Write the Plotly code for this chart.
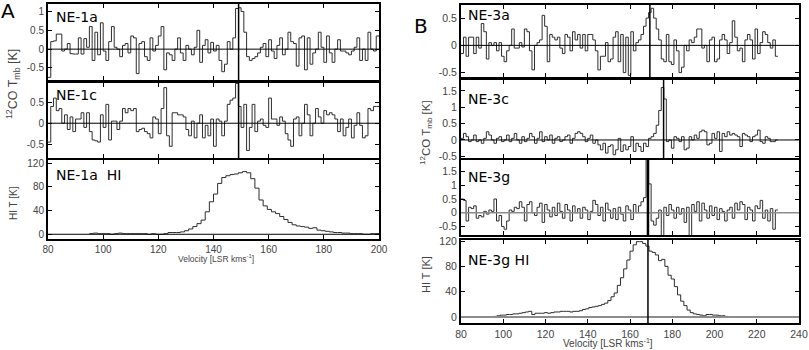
import numpy as np
import plotly.graph_objects as go

W, H = 809, 350

# ---------------- data ----------------
A_CO_START, A_CO_STEP = 80.0, 1.0
ne1a_co = [
    -0.75, 0.2, 0.22, 0.4, 0.4, -0.05, 0.0, 0.15, -0.12, -0.13,
    -0.13, 0.3, -0.13, 0.28, 0.05, 0.6, -0.3, 0.45, -0.15, 0.7,
    -0.05, -0.3, 0.2, 0.6, 0.05, 0.0, -0.2, 0.1, 0.15, -0.1,
    0.35, 0.3, -0.65, 0.15, 0.2, -0.2, -0.3, 0.3, -0.05, 0.1,
    0.35, 0.6, -0.55, -0.1, -0.15, -0.3, 0.0, 0.3, -0.1, -0.3,
    0.1, 0.0, -0.15, 0.05, 0.5, -0.35, 0.1, 0.25, -0.1, 0.18,
    -0.05, 0.1, -0.3, -0.6, -0.4, 0.2, 0.0, 0.3, 1.08, 1.1,
    1.0, 0.45, -0.2, -0.3, -0.25, -0.2, -0.1, 0.05, 0.15, -0.2,
    0.25, -0.05, -0.25, 0.1, 0.3, -0.15, 0.0, 0.45, 0.2, 0.15,
    -0.45, 0.3, 0.35, -0.55, 0.3, -0.4, -0.1, 0.0, 0.45, 0.05,
    -0.35, 0.35, -0.1, -0.35, 0.0, 0.25, -0.05, -0.05, -0.1, -0.15,
    -0.05, 0.05, 0.3, -0.3, 0.0, -0.3, 0.45, 0.0, -0.05, 0.35,
]
ne1c_co = [
    -0.45, 0.4, 0.6, 0.3, 0.35, 0.0, 0.2, -0.15, 0.15, -0.2,
    0.1, 0.1, 0.25, -0.1, 0.25, -0.2, -0.4, -0.42, -0.45, 0.2,
    -0.1, 0.45, -0.4, 0.05, 0.05, -0.15, 0.05, 0.35, 0.25, 0.35,
    0.3, 0.35, -0.2, -0.15, -0.12, -0.2, -0.25, -0.35, 0.15, 0.1,
    -0.25, 0.35, 0.85, -0.3, -0.55, 0.25, 0.25, 0.2, 0.2, 0.15,
    -0.15, -0.3, 0.05, -0.35, 0.0, 0.2, -0.35, -0.05, -0.3, 0.1,
    -0.55, 0.1, 0.05, -0.3, 0.05, 0.45, 0.55, 0.6, 0.95, 0.4,
    -0.1, 0.45, -0.65, -0.1, 0.45, -0.2, 0.05, 0.1, -0.05, -0.1,
    0.6, 0.1, 0.1, -0.05, 0.15, 0.05, -0.25, -0.4, -0.55, 0.1,
    0.15, -0.3, 0.0, 0.45, 0.2, -0.3, 0.0, 0.35, 0.15, 0.0,
    0.3, 0.2, 0.25, 0.2, 0.1, -0.2, 0.1, -0.3, -0.1, 0.1,
    -0.35, -0.05, 0.25, -0.05, -0.35, -0.3, 0.35, 0.3, 0.4, 0.4,
]
HI_A_START, HI_A_STEP = 95.0, 1.5
ne1a_hi = [
    1, 2, 1, 1, 1, 0, 1, 2, 1, 1,
    1, 1, 1, 1, 0, 1, 0, 0, 1, 3,
    3, 3, 4, 6, 9, 13, 18, 24, 38, 55,
    68, 86, 96, 99, 101, 102, 104, 106, 104, 94,
    78, 58, 48, 42, 38, 35, 30, 25, 20, 16,
    14, 13, 12, 10, 11, 7, 6, 5, 4, 3,
    3, 2, 2, 1, 1, 1, 0, 0, 1, 1, 1,
]

B_CO_START, B_CO_STEP = 80.0, 1.2
ne3a_co = [
    -0.15, 0.15, -0.2, 0.15, 0.15, -0.15, 0.15, -0.05, 0.4, 0.25,
    -0.25, 0.05, 0.0, 0.05, -0.1, 0.05, -0.2, -0.3, -0.1, 0.0,
    0.3, -0.05, -0.05, 0.05, -0.03, 0.3, 0.25, -0.1, -0.45, 0.0,
    0.05, 0.1, 0.55, 0.35, -0.3, 0.2, 0.15, 0.1, 0.15, -0.05,
    -0.15, 0.2, 0.15, -0.1, 0.25, 0.1, 0.2, -0.05, 0.2, -0.1,
    0.2, 0.2, 0.1, -0.1, -0.45, -0.2, -0.2, 0.05, -0.3, -0.25,
    0.15, 0.25, -0.3, 0.2, -0.5, 0.15, -0.55, 0.25, -0.1, 0.05,
    0.1, 0.2, 0.35, 0.5, 0.6, 0.68, 0.5, 0.3, 0.1, -0.25,
    -0.3, 0.2, -0.3, -0.35, 0.1, -0.1, -0.5, -0.4, 0.0, -0.1,
    0.1, 0.05, 0.15, 0.3, 0.3, -0.05, 0.0, -0.3, 0.1, 0.15,
    -0.3, -0.25, 0.1, 0.2, 0.1, -0.15, 0.05, 0.45, 0.15, -0.1,
    -0.05, -0.3, 0.1, 0.2, 0.1, -0.25, 0.3, -0.15, 0.05, 0.25,
    0.2, 0.05, -0.05, 0.1, -0.2,
]
ne3c_co = [
    0.05, 0.2, 0.1, -0.05, 0.0, 0.15, -0.05, 0.0, -0.1, 0.05,
    0.25, 0.15, 0.0, -0.1, 0.05, 0.1, -0.05, 0.0, 0.15, -0.05,
    0.05, 0.2, 0.0, -0.1, 0.1, -0.05, 0.05, 0.2, 0.1, -0.1,
    0.05, 0.25, -0.05, 0.1, 0.0, 0.15, -0.1, 0.05, 0.1, -0.05,
    0.0, 0.1, 0.15, -0.1, 0.05, 0.2, 0.25, 0.2, 0.1, -0.05,
    0.05, 0.15, -0.1, 0.0, -0.15, -0.3, -0.1, -0.4, -0.2, -0.15,
    -0.45, -0.3, 0.05, -0.35, -0.15, -0.3, -0.2, 0.1, -0.35, -0.1,
    -0.2, -0.35, -0.1, -0.2, 0.05, 0.1, 0.2, 0.45, 0.9, 1.6,
    1.25, -0.05, 0.0, -0.25, 0.1, 0.05, -0.05, 0.1, -0.3, -0.25,
    0.1, 0.0, 0.15, 0.05, 0.25, 0.3, 0.25, -0.15, -0.1, 0.2,
    0.05, 0.25, -0.35, 0.2, 0.1, 0.25, 0.15, 0.2, 0.15, 0.1,
    -0.2, 0.2, 0.15, 0.1, -0.05, 0.1, 0.15, 0.3, -0.05, -0.1,
    0.1, 0.05, -0.05, -0.05, 0.0,
]
ne3g_co = [
    0.5, 0.45, -0.3, 0.2, 0.15, 0.25, -0.2, -0.1, -0.15, 0.05,
    -0.05, 0.1, 0.05, 0.5, -0.3, -0.1, -0.5, -0.6, -0.3, 0.1,
    0.05, 0.2, 0.15, 0.4, 0.2, -0.3, 0.3, 0.4, 0.0, -0.1,
    0.2, 0.35, -0.35, 0.3, 0.1, -0.15, 0.2, -0.1, 0.35, 0.05,
    -0.2, 0.3, 0.1, -0.3, 0.25, 0.0, 0.15, -0.2, 0.2, 0.1,
    -0.25, 0.05, 0.45, 0.3, -0.1, 0.2, -0.3, 0.35, 0.1, -0.2,
    0.15, -0.25, 0.2, -0.05, -0.3, 0.25, 0.1, -0.25, 0.3, 0.0,
    0.25, 0.4, 0.55, 1.95, 1.05, -0.3, -0.45, -0.2, 0.1, -1.2,
    0.2, -0.1, 0.3, 0.1, -0.2, 0.2, -0.05, 0.15, -0.35, 0.2,
    -1.2, 0.3, 0.05, 0.4, -0.3, 0.35, 0.1, -0.2, 0.25, -0.1,
    0.2, -0.25, 0.15, 0.05, -0.3, 0.1, 0.2, -0.2, 0.35, 0.1,
    0.4, 0.3, -0.25, 0.2, 0.1, -0.3, 0.25, 0.15, 0.45, -0.2,
    0.1, -0.3, 0.15, -0.6, 0.1,
]
HI_B_START, HI_B_STEP = 94.0, 1.5
ne3g_hi = [
    0, 1, 2, 3, 3, 4, 4, 5, 5, 6,
    7, 8, 9, 4, 6, 6, 6, 7, 6, 7,
    8, 8, 9, 9, 9, 8, 9, 9, 10, 12,
    13, 15, 16, 17, 18, 20, 22, 26, 32, 38,
    50, 62, 76, 90, 104, 114, 119, 119, 116, 112,
    104, 102, 98, 89, 91, 80, 66, 60, 48, 35,
    25, 18, 11, 7, 5, 4, 3, 2, 4, 4,
    3, 3, 2, 2, 1,
]

# marked velocities (vertical lines)
v_ne1 = 149.1
v_ne3a = 169.4
v_ne3c = 175.9
v_ne3g = 168.5

A_XTICKS = [80, 100, 120, 140, 160, 180, 200]
B_XTICKS = [80, 100, 120, 140, 160, 180, 200, 220, 240]

# ---------------- layout helpers ----------------
def xd(l, r):
    return [l / W, r / W]

def yd(top, bottom):
    return [1 - bottom / H, 1 - top / H]

A_XD = xd(48, 379)
B_XD = xd(461, 799)

panels = [
    dict(lab="NE-1a", vals=ne1a_co, st=A_CO_START, dv=A_CO_STEP, xdom=A_XD, ydom=yd(4, 80),
         xr=[80, 200], yr=[-0.82, 1.2], yt=[-0.5, 0, 0.5, 1], xt=A_XTICKS, bottom=False,
         zc="black", zw=1, vl=v_ne1, vw=1.5, fs=10, labpos=(55, 17)),
    dict(lab="NE-1c", vals=ne1c_co, st=A_CO_START, dv=A_CO_STEP, xdom=A_XD, ydom=yd(83, 158),
         xr=[80, 200], yr=[-0.83, 0.96], yt=[-0.5, 0, 0.5], xt=A_XTICKS, bottom=False,
         zc="black", zw=1, vl=v_ne1, vw=1.5, fs=10, labpos=(55, 95)),
    dict(lab="NE-1a  HI", vals=ne1a_hi, st=HI_A_START, dv=HI_A_STEP, xdom=A_XD, ydom=yd(160, 239),
         xr=[80, 200], yr=[-8, 125.6], yt=[0, 40, 80, 120], xt=A_XTICKS, bottom=True,
         zc="black", zw=1, vl=None, vw=0, fs=10, labpos=(55, 175)),
    dict(lab="NE-3a", vals=ne3a_co, st=B_CO_START, dv=B_CO_STEP, xdom=B_XD, ydom=yd(5, 77),
         xr=[80, 240], yr=[-0.58, 0.74], yt=[-0.5, 0, 0.5], xt=B_XTICKS, bottom=False,
         zc="black", zw=1, vl=v_ne3a, vw=1.5, fs=10.5, labpos=(467, 15)),
    dict(lab="NE-3c", vals=ne3c_co, st=B_CO_START, dv=B_CO_STEP, xdom=B_XD, ydom=yd(80, 158),
         xr=[80, 240], yr=[-0.55, 1.83], yt=[-0.5, 0, 0.5, 1, 1.5], xt=B_XTICKS, bottom=False,
         zc="black", zw=1, vl=v_ne3c, vw=1.5, fs=10.5, labpos=(467, 99)),
    dict(lab="NE-3g", vals=ne3g_co, st=B_CO_START, dv=B_CO_STEP, xdom=B_XD, ydom=yd(160, 235),
         xr=[80, 240], yr=[-0.81, 1.92], yt=[-0.5, 0, 0.5, 1, 1.5], xt=B_XTICKS, bottom=False,
         zc="#8c8c8c", zw=1.5, vl=v_ne3g, vw=2.5, fs=10.5, labpos=(467, 177)),
    dict(lab="NE-3g HI", vals=ne3g_hi, st=HI_B_START, dv=HI_B_STEP, xdom=B_XD, ydom=yd(240, 323),
         xr=[80, 240], yr=[-9.4, 121.6], yt=[0, 40, 80, 120], xt=B_XTICKS, bottom=True,
         zc="#8c8c8c", zw=2, vl=v_ne3g, vw=1.5, fs=10.5, labpos=(467, 260)),
]

def fmt(v):
    return "%g" % v

fig = go.Figure()
layout = dict(width=W, height=H, margin=dict(l=0, r=0, t=0, b=0, autoexpand=False),
              paper_bgcolor="white", plot_bgcolor="white", showlegend=False,
              font=dict(family="Liberation Sans, Arial, sans-serif", color="#444"))
shapes = []
annotations = []

for i, p in enumerate(panels):
    n = "" if i == 0 else str(i + 1)
    vals = list(p["vals"])
    xs = p["st"] + p["dv"] * np.arange(len(vals) + 1)
    ys = vals + [vals[-1]]
    fig.add_trace(go.Scatter(x=xs, y=ys, mode="lines", line=dict(color="#2e2e2e", width=1, shape="hv"),
                             xaxis="x" + n, yaxis="y" + n, hoverinfo="skip"))
    common = dict(showline=True, linewidth=2, linecolor="black", mirror="ticks", ticks="inside",
                  ticklen=4, tickwidth=1, tickcolor="black", showgrid=False, zeroline=False,
                  automargin=False, fixedrange=True,
                  tickfont=dict(size=p["fs"], color="#444", family="Liberation Sans, Arial, sans-serif"))
    layout["xaxis" + n] = dict(domain=p["xdom"], range=p["xr"], anchor="y" + n,
                               tickvals=p["xt"], ticktext=[str(t) for t in p["xt"]],
                               showticklabels=p["bottom"], **common)
    layout["yaxis" + n] = dict(domain=p["ydom"], range=p["yr"], anchor="x" + n,
                               tickvals=p["yt"], ticktext=[fmt(t) for t in p["yt"]], **common)
    shapes.append(dict(type="line", xref="x" + n + " domain", yref="y" + n, x0=0, x1=1, y0=0, y1=0,
                       line=dict(color=p["zc"], width=p["zw"]), layer="above"))
    if p["vl"] is not None:
        shapes.append(dict(type="line", xref="x" + n, yref="y" + n + " domain", x0=p["vl"], x1=p["vl"],
                           y0=0, y1=1, line=dict(color="black", width=p["vw"]), layer="above"))
    lx, ly = p["labpos"]
    annotations.append(dict(text=p["lab"], x=lx / W, y=1 - ly / H, xref="paper", yref="paper",
                            xanchor="left", yanchor="middle", showarrow=False, borderpad=0,
                            font=dict(size=14, color="black", family="DejaVu Sans, sans-serif")))

def ann(text, x, y, size, angle=0, color="#444", family="Liberation Sans, Arial, sans-serif",
        yanchor="middle"):
    annotations.append(dict(text=text, x=x / W, y=1 - y / H, xref="paper", yref="paper",
                            xanchor="center", yanchor=yanchor, showarrow=False, textangle=angle,
                            borderpad=0, font=dict(size=size, color=color, family=family)))

ann("A", 8, 11, 20, color="black", family="DejaVu Sans, sans-serif")
ann("B", 421, 26, 20, color="black", family="DejaVu Sans, sans-serif")
ann("<sup>12</sup>CO T<sub>mb</sub> [K]", 13, 84, 12.5, angle=-90)
ann("HI T [K]", 13, 203, 10, angle=-90)
ann("<sup>12</sup>CO T<sub>mb</sub> [K]", 426, 133, 11.5, angle=-90)
ann("HI T [K]", 426, 275, 11, angle=-90)
ann("Velocity [LSR kms<sup>-1</sup>]", 216, 258.5, 8.5)
ann("Velocity [LSR kms<sup>-1</sup>]", 608, 343, 10)

layout["shapes"] = shapes
layout["annotations"] = annotations
fig.update_layout(**layout)
fig.write_html(
    "out.html",
    config={"displayModeBar": False, "staticPlot": True},
    post_script="document.body.style.margin='0px';document.documentElement.style.overflow='hidden';",
)
